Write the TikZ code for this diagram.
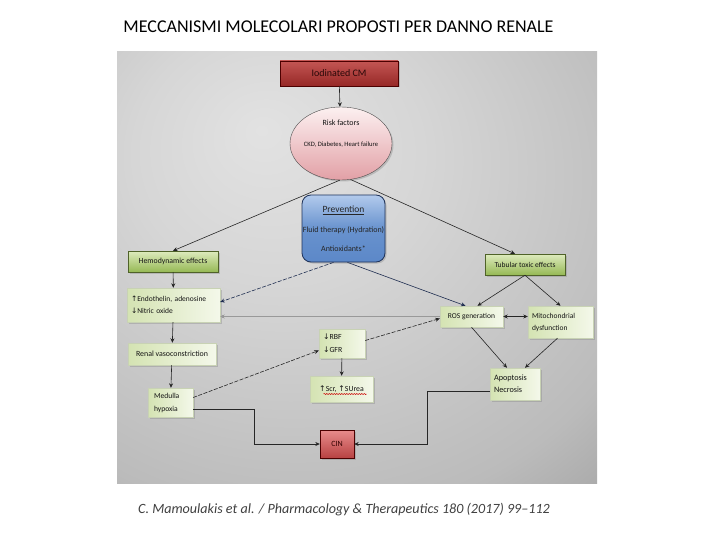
\documentclass[tikz,border=0pt]{standalone}
\usepackage{fontspec}
\setmainfont{Carlito}
\newfontfamily\arr{DejaVu Sans}
\usetikzlibrary{shapes.geometric,arrows.meta,shadows,calc,decorations.pathmorphing}
\definecolor{bgA}{HTML}{E2E2E2}
\definecolor{bgB}{HTML}{D6D6D6}
\definecolor{bgC}{HTML}{BBBBBB}
\definecolor{bgD}{HTML}{858585}
\definecolor{bgE}{HTML}{7A7A7A}
\pgfdeclareradialshading{bgshade}{\pgfpoint{-10bp}{16bp}}{color(0bp)=(bgA); color(15bp)=(bgB); color(38bp)=(bgC); color(60bp)=(bgD); color(85bp)=(bgE)}
\newcommand\uparr{{\arr\char"2191}}
\newcommand\dnarr{{\arr\char"2193}}
\tikzset{
  base/.style={inner sep=1pt, font=\fontsize{7.8}{9}\selectfont, text=black!92,
    drop shadow={opacity=0.35,shadow xshift=1.5pt,shadow yshift=-1.5pt}},
  redbox/.style={base, rectangle, draw=red!30!black, top color={rgb,255:red,232;green,140;blue,140}, bottom color={rgb,255:red,184;green,66;blue,66}, text=red!20!black},
  darkred/.style={base, rectangle, draw=red!30!black, top color={rgb,255:red,196;green,86;blue,84}, bottom color={rgb,255:red,150;green,40;blue,38}, text={rgb,255:red,40;green,8;blue,8}},
  greenbox/.style={base, rectangle, draw={rgb,255:red,79;green,98;blue,40}, top color={rgb,255:red,222;green,235;blue,190}, bottom color={rgb,255:red,150;green,185;blue,85}},
  lightbox/.style={base, rectangle, draw={rgb,255:red,200;green,210;blue,180}, left color={rgb,255:red,212;green,227;blue,178}, right color={rgb,255:red,244;green,248;blue,234}, align=left},
  arrowline/.style={draw=black!85, line width=0.6pt, -{Stealth[length=4.5pt,width=4pt]}},
  dashline/.style={arrowline, dashed, dash pattern=on 4pt off 1.5pt},
  blueline/.style={arrowline, draw={rgb,255:red,30;green,45;blue,80}},
}
\begin{document}
\begin{tikzpicture}[x=1pt,y=-1pt]
\useasboundingbox (0,0) rectangle (720,540);
\fill[white] (0,0) rectangle (720,540);
\node (title) at (338.5,27) {\fontsize{18}{20}\selectfont MECCANISMI MOLECOLARI PROPOSTI PER DANNO RENALE};
\fill[shading=bgshade] (117,52) rectangle (597,483);
\node[text=black!75] (cite) at (344,510) {\fontsize{14.1}{16}\selectfont\itshape C. Mamoulakis et al. / Pharmacology \& Therapeutics 180 (2017) 99–112};

% nodes
\node[darkred, minimum width=118pt, minimum height=25pt, font=\fontsize{10}{11}\selectfont] (icm) at (339,73.5) {Iodinated CM};
\node[base, ellipse, draw=black!70, top color={rgb,255:red,252;green,240;blue,240}, bottom color={rgb,255:red,226;green,160;blue,166}, minimum width=102pt, minimum height=73pt, inner sep=0pt] (risk) at (341,143.5) {};
\node[align=center, inner sep=0pt, text=black!92] (risktext) at (341,134) {\fontsize{8}{9}\selectfont Risk factors\\[9pt]\fontsize{6.6}{8}\selectfont CKD, Diabetes, Heart failure};
\node[base, rectangle, rounded corners=9pt, draw={rgb,255:red,30;green,50;blue,90}, line width=0.8pt, top color={rgb,255:red,178;green,202;blue,236}, bottom color={rgb,255:red,92;green,136;blue,200}, middle color={rgb,255:red,104;green,146;blue,206}, minimum width=83pt, minimum height=67pt, inner sep=0pt, align=center, text=black!85, font=\fontsize{8}{9}\selectfont] (prev) at (343.5,228.5) {\underline{\fontsize{9.5}{10}\selectfont Prevention}\\[11pt]Fluid therapy (Hydration)\\[10pt]Antioxidants*};
\node[greenbox, minimum width=90pt, minimum height=21pt] (hemo) at (173,261.5) {Hemodynamic effects};
\node[greenbox, minimum width=80pt, minimum height=21pt, font=\fontsize{7.5}{9}\selectfont] (tub) at (525,264.5) {Tubular toxic effects};
\node[lightbox, minimum width=93pt, minimum height=34pt, text width=85pt, inner xsep=4pt, font=\fontsize{7.5}{12}\selectfont] (endo) at (173.5,305) {\uparr Endothelin, adenosine\\\dnarr Nitric oxide};
\node[lightbox, minimum width=88pt, minimum height=22pt, font=\fontsize{7.9}{9}\selectfont] (renal) at (172,354) {Renal vasoconstriction};
\node[lightbox, minimum width=45pt, minimum height=29pt, text width=33pt, inner xsep=6pt, font=\fontsize{7.6}{13}\selectfont] (med) at (170.5,402.5) {Medulla\\hypoxia};
\node[lightbox, minimum width=46pt, minimum height=29pt, text width=38pt, inner xsep=4pt, font=\fontsize{7.8}{13}\selectfont] (rbf) at (342,343.5) {\dnarr RBF\\\dnarr GFR};
\node[lightbox, minimum width=63pt, minimum height=26pt] (scr) at (341.5,389) {\uparr Scr, \uparr SUrea};
\node[lightbox, minimum width=63pt, minimum height=21pt, font=\fontsize{7.5}{9}\selectfont] (ros) at (471.5,316.5) {ROS generation};
\node[lightbox, minimum width=65pt, minimum height=32pt, text width=57pt, inner xsep=4pt, font=\fontsize{7.5}{12}\selectfont] (mito) at (560.5,322) {Mitochondrial\\dysfunction};
\node[lightbox, minimum width=50pt, minimum height=32pt, text width=42pt, inner xsep=4pt, font=\fontsize{8.2}{12}\selectfont] (apo) at (515,384) {Apoptosis\\Necrosis};
\node[redbox, minimum width=34pt, minimum height=28pt, font=\fontsize{8}{9}\selectfont] (cin) at (337,444) {CIN};

% spell-check squiggle
\draw[red!80!black, line width=0.5pt, decorate, decoration={snake, amplitude=0.6pt, segment length=2.5pt}] ($(scr.center)+(-18,5)$) -- ($(scr.center)+(25,5)$);

% connectors
\draw[arrowline] (icm) -- (risk);
\draw[arrowline] (risk.268) -- (hemo.north);
\draw[arrowline] (risk.285) -- ($(tub.north)+(-10,0)$);
\draw[blueline, dashed, dash pattern=on 4pt off 1.5pt] ($(prev.south)+(-10,0)$) -- ($(endo.east)+(0,-3)$);
\draw[blueline] ($(prev.south)+(4,0)$) -- ($(ros.north)+(-6,0)$);
\draw[arrowline] (hemo) -- (endo);
\draw[arrowline] (endo) -- (renal);
\draw[arrowline] (renal) -- (med);
\draw[draw=black!40, line width=0.7pt, -{Stealth[length=4.5pt,width=4pt,fill=black]}] (ros.west) -- (ros.west -| endo.east);
\draw[arrowline] (tub.south) -- ($(ros.north)+(6,0)$);
\draw[arrowline] (tub.south) -- (mito.north);
\draw[arrowline, {Stealth[length=4.5pt,width=4pt]}-{Stealth[length=4.5pt,width=4pt]}] (ros.east) -- (ros.east -| mito.west);
\draw[arrowline] (ros.south) -- ($(apo.north)+(-8,0)$);
\draw[arrowline] ($(mito.south)+(-3,0)$) -- ($(apo.north)+(10,0)$);
\draw[dashline] ($(med.east)+(0,-5)$) -- ($(rbf.west)+(0,7)$);
\draw[dashline] ($(rbf.east)+(0,-3)$) -- ($(ros.west)+(0,2)$);
\draw[arrowline] (rbf) -- (scr);
\draw[arrowline] ($(med.east)+(0,7)$) -- ++(61,0) |- (cin.west);
\draw[arrowline] ($(apo.west)+(0,7)$) -- ++(-63,0) |- (cin.east);
\end{tikzpicture}
\end{document}
